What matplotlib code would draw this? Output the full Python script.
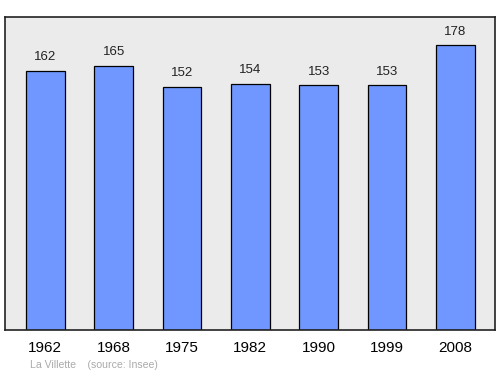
import matplotlib
matplotlib.use("Agg")
import matplotlib.pyplot as plt

years = ["1962", "1968", "1975", "1982", "1990", "1999", "2008"]
population = [162, 165, 152, 154, 153, 153, 178]
footer = "La Villette    (source: Insee)"

plt.rcParams['font.family'] = ['Liberation Sans', 'DejaVu Sans']

fig = plt.figure(figsize=(5, 3.74), dpi=100)
W, H = 500, 374
ax = fig.add_axes([5 / W, 1 - 330 / H, 490 / W, 313 / H])
ax.set_facecolor('#ebebeb')
x = list(range(len(years)))
ax.bar(x, population, width=0.57, color='#7097ff', edgecolor='black', linewidth=0.9, zorder=2)
for xi, v in zip(x, population):
    ax.annotate(str(v), (xi, v), xytext=(0, 5.5), textcoords='offset points',
                ha='center', va='bottom', fontsize=9.5, color='#222222')
ax.set_xlim(-0.59, 6.58)
ax.set_ylim(0, 195.6)
ax.set_yticks([])
ax.set_xticks(x)
ax.set_xticklabels(years, fontsize=11)
ax.tick_params(axis='x', length=0, pad=8)
for s in ax.spines.values():
    s.set_linewidth(1.2)
    s.set_color('#222222')
fig.text(30 / W, 1 - 365 / H, footer, fontsize=7.6, color='#aaaaaa', va='center', ha='left')
fig.savefig('out.png', dpi=100)
